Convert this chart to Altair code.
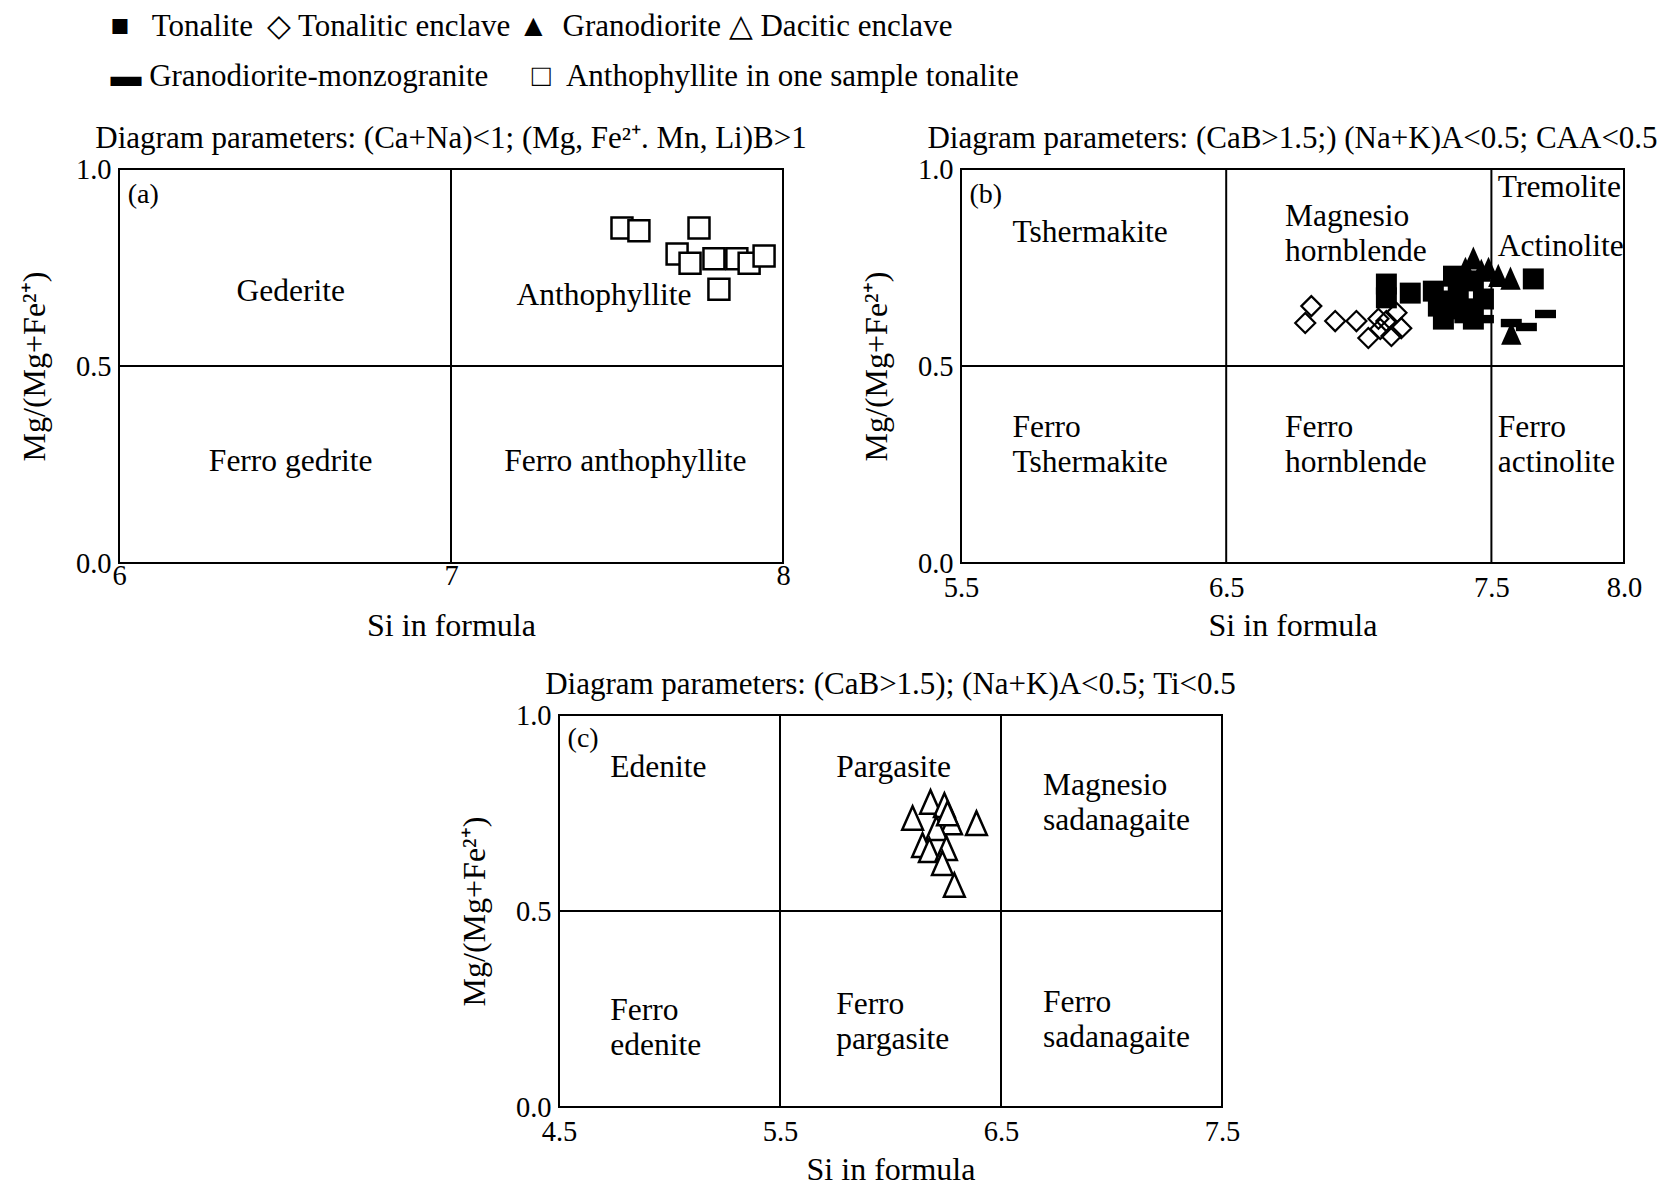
import altair as alt
import pandas as pd

FONT = "Liberation Serif"

# ---------------- text ----------------
legend_row1 = "■\u2002 Tonalite\u2009 ◇ Tonalitic enclave ▲\u2009 Granodiorite △ Dacitic enclave"
legend_row2 = "▬ Granodiorite-monzogranite\u2003\u2009\u2009□\u2002Anthophyllite in one sample tonalite"

title_a = "Diagram parameters: (Ca+Na)<1; (Mg, Fe²⁺. Mn, Li)B>1"
title_b = "Diagram parameters: (CaB>1.5;) (Na+K)A<0.5; CAA<0.5"
title_c = "Diagram parameters: (CaB>1.5); (Na+K)A<0.5; Ti<0.5"
y_title = "Mg/(Mg+Fe²⁺)"
x_title = "Si in formula"

# ---------------- panel (a) ----------------
a_ticks = [6.0, 7.0, 8.0]
antho_si = [7.515, 7.566, 7.747, 7.681, 7.720, 7.792, 7.861, 7.898, 7.943, 7.807]
antho_mg = [0.850, 0.843, 0.850, 0.784, 0.761, 0.772, 0.772, 0.761, 0.779, 0.695]

a_lab_text = ["Gederite", "Anthophyllite", "Ferro gedrite", "Ferro anthophyllite"]
a_lab_x = [6.517, 7.461, 6.517, 7.525]
a_lab_y = [0.688, 0.678, 0.257, 0.257]

# ---------------- panel (b) ----------------
b_ticks = [5.5, 6.5, 7.5, 8.0]
ton_si = [7.104, 7.104, 7.194, 7.281, 7.300, 7.319, 7.357, 7.375, 7.394, 7.432, 7.432, 7.470, 7.658, 7.338]
ton_mg = [0.708, 0.673, 0.685, 0.690, 0.652, 0.619, 0.728, 0.690, 0.645, 0.619, 0.716, 0.670, 0.721, 0.665]

tenc_si = [6.821, 6.798, 6.911, 6.991, 7.036, 7.081, 7.104, 7.142, 7.123, 7.160, 7.074]
tenc_mg = [0.652, 0.609, 0.614, 0.614, 0.571, 0.594, 0.614, 0.635, 0.576, 0.596, 0.620]

grd_si = [7.432, 7.402, 7.462, 7.526, 7.572, 7.575, 7.489]
grd_mg = [0.772, 0.746, 0.741, 0.728, 0.721, 0.581, 0.746]

gmz_si = [7.400, 7.470, 7.575, 7.632, 7.704]
gmz_mg = [0.619, 0.619, 0.609, 0.599, 0.632]

b_lab_text = ["Tshermakite", "Magnesio\nhornblende", "Tremolite", "Actinolite",
              "Ferro\nTshermakite", "Ferro\nhornblende", "Ferro\nactinolite"]
b_lab_x = [5.694, 6.722, 7.524, 7.524, 5.694, 6.722, 7.524]
b_lab_y = [0.837, 0.878, 0.951, 0.802, 0.343, 0.343, 0.343]

# ---------------- panel (c) ----------------
c_ticks = [4.5, 5.5, 6.5, 7.5]
dac_si = [6.181, 6.244, 6.100, 6.276, 6.389, 6.208, 6.145, 6.176, 6.253, 6.235, 6.289, 6.258]
dac_mg = [0.776, 0.768, 0.735, 0.724, 0.722, 0.709, 0.666, 0.653, 0.658, 0.620, 0.564, 0.747]

c_lab_text = ["Edenite", "Pargasite", "Magnesio\nsadanagaite",
              "Ferro\nedenite", "Ferro\npargasite", "Ferro\nsadanagaite"]
c_lab_x = [4.732, 5.754, 6.690, 4.732, 5.754, 6.690]
c_lab_y = [0.864, 0.864, 0.819, 0.246, 0.260, 0.266]

y_ticks = [0.0, 0.5, 1.0]

TRI = "M0,-1.15L-0.95,1L0.95,1Z"
BAR = "M-1,-0.4H1V0.4H-1Z"


def panel(xdom, xticks, xfmt, title, width, height, vlines, labels, align, letter, layers,
          lab_pad, tit_pad):
    xs = alt.Scale(domain=xdom, nice=False, zero=False)
    ys = alt.Scale(domain=[0, 1], nice=False, zero=False)

    def X(f):
        return alt.X(f, type="quantitative", scale=xs,
                     axis=alt.Axis(values=xticks, format=xfmt, title=x_title,
                                   labelPadding=lab_pad, titlePadding=tit_pad,
                                   labelOverlap=False, labelFlush=False))

    def Y(f):
        return alt.Y(f, type="quantitative", scale=ys,
                     axis=alt.Axis(values=y_ticks, format=".1f", title=y_title,
                                   labelOverlap=False, labelFlush=False))

    vdf = pd.DataFrame({"si": vlines})
    hdf = pd.DataFrame({"mg": [0.5]})
    rules_v = alt.Chart(vdf).mark_rule(color="black", strokeWidth=2).encode(x=X("si"))
    rules_h = alt.Chart(hdf).mark_rule(color="black", strokeWidth=2).encode(y=Y("mg"))

    ldf = pd.DataFrame({"si": labels[1], "mg": labels[2], "t": labels[0]})
    txt = alt.Chart(ldf).mark_text(font=FONT, fontSize=31.5, align=align, baseline="middle",
                                   lineBreak="\n", lineHeight=35, color="black").encode(
        x=X("si"), y=Y("mg"), text="t:N")

    let = alt.Chart(pd.DataFrame({"si": [letter[1]], "mg": [letter[2]], "t": [letter[0]]})).mark_text(
        font=FONT, fontSize=28, align="left", baseline="middle", color="black").encode(
        x=X("si"), y=Y("mg"), text="t:N")

    pts = []
    for (sx, sy, kw) in layers:
        d = pd.DataFrame({"si": sx, "mg": sy})
        pts.append(alt.Chart(d).mark_point(opacity=1, **kw).encode(x=X("si"), y=Y("mg")))

    return alt.layer(rules_v, rules_h, txt, let, *pts).properties(
        width=width, height=height,
        title=alt.Title(title, anchor="middle", offset=0))


hollow = dict(filled=True, fill="white", stroke="black", strokeWidth=2.5)

pa = panel([6, 8], a_ticks, ".0f", title_a, 664, 394, [7],
           (a_lab_text, a_lab_x, a_lab_y), "center", ("(a)", 6.026, 0.935),
           [(antho_si, antho_mg, dict(shape="square", size=440, **hollow))],
           -2, 21)

pb = panel([5.5, 8.0], b_ticks, ".1f", title_b, 663, 394, [6.5, 7.5],
           (b_lab_text, b_lab_x, b_lab_y), "left", ("(b)", 5.532, 0.935),
           [(tenc_si, tenc_mg, dict(shape="diamond", size=400, filled=False, stroke="black", strokeWidth=2.2)),
            (ton_si, ton_mg, dict(shape="square", size=440, filled=True, color="black")),
            (gmz_si, gmz_mg, dict(shape=BAR, size=440, filled=True, color="black")),
            (grd_si, grd_mg, dict(shape=TRI, size=460, filled=True, color="black"))],
           10, 9)

pc = panel([4.5, 7.5], c_ticks, ".1f", title_c, 663, 392, [5.5, 6.5],
           (c_lab_text, c_lab_x, c_lab_y), "left", ("(c)", 4.539, 0.940),
           [(dac_si, dac_mg, dict(shape=TRI, size=480, **hollow))],
           10, 9)

spacer = alt.Chart(pd.DataFrame({"si": [0], "mg": [0]})).mark_point(opacity=0).encode(
    x=alt.X("si:Q", axis=None), y=alt.Y("mg:Q", axis=None)).properties(
    width=440, height=392, view=alt.ViewBackground(strokeOpacity=0))

row1 = alt.hconcat(pa, pb, spacing=178, bounds="flush")
row2 = alt.hconcat(spacer, pc, spacing=0, bounds="flush")

chart = alt.vconcat(row1, row2, spacing=546, bounds="flush").properties(
    title=alt.Title([legend_row1, legend_row2], anchor="start", font=FONT, fontSize=31,
                    fontWeight="normal", lineHeight=50, color="black", dx=93, offset=29),
    padding={"left": 9, "top": 3, "right": 0, "bottom": 5},
).configure_view(stroke="black", strokeWidth=2).configure_axis(
    domain=False, ticks=False, grid=False,
    labelFont=FONT, labelFontSize=28.5, labelColor="black",
    titleFont=FONT, titleFontSize=32, titleFontWeight="normal", titleColor="black",
).configure_axisY(labelPadding=8, titlePadding=24).configure_title(
    font=FONT, fontSize=31, fontWeight="normal", color="black")

chart.save("out.html", embed_options={"renderer": "svg", "actions": False})
